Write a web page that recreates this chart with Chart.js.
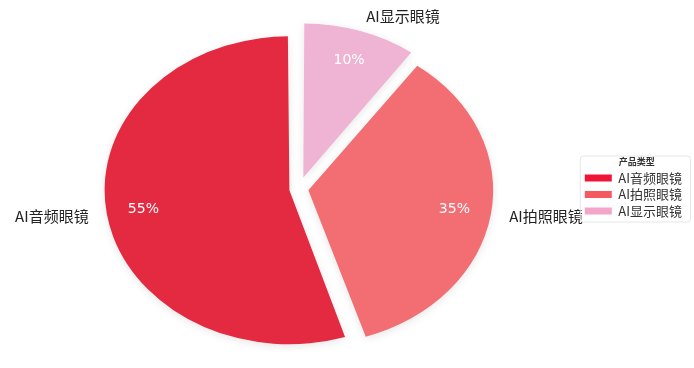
<!DOCTYPE html>
<html>
<head>
<meta charset="utf-8">
<script src="https://cdn.jsdelivr.net/npm/chart.js@4/dist/chart.umd.min.js"></script>
<style>
  html, body { margin: 0; padding: 0; background: #ffffff; }
  #wrap { width: 694px; height: 368px; }
</style>
</head>
<body>
<div id="wrap"><canvas id="c" width="694" height="368"></canvas></div>
<script>
// ---- data ----
const categories = ['AI音频眼镜', 'AI拍照眼镜', 'AI显示眼镜'];
const shares = [55, 35, 10];
const sliceColors = ['#e42a40', '#f26e73', '#efb4d3'];
const legendColors = ['#ee1537', '#f45a5e', '#f4a6c8'];
const legendTitle = '产品类型';
// clockwise drawing order (starting with AI音频眼镜)
const drawOrder = [0, 2, 1];

const total = shares.reduce((a, b) => a + b, 0);
const rotationDeg = 360 - 360 * shares[0] / total;
const SX = 1.2; // horizontal stretch of the pie (elliptical pie)

const labelFont = '15px "Noto Sans CJK SC", "Liberation Sans", sans-serif';
const pctFont = '14px "DejaVu Sans", sans-serif';

const ellipsePlugin = {
  id: 'ellipse',
  beforeDatasetsDraw(chart) {
    const meta = chart.getDatasetMeta(0);
    const ctrlR = meta.controller.outerRadius;
    meta.data.forEach(el => {
      const circ = el.circumference;
      const fix = 1 - Math.sin(Math.min(Math.PI, circ || 0));
      el.outerRadius = ctrlR - ((el.options.offset || 0) / 4) * fix;
    });
    const cx = meta.data[0].x;
    const ctx = chart.ctx;
    ctx.save();
    ctx.shadowColor = 'rgba(0,0,0,0.10)';
    ctx.shadowBlur = 8;
    ctx.shadowOffsetY = 2;
    ctx.translate(cx, 0);
    ctx.scale(SX, 1);
    ctx.translate(-cx, 0);
  },
  afterDatasetsDraw(chart) {
    const ctx = chart.ctx;
    ctx.restore();
    const meta = chart.getDatasetMeta(0);
    const R = meta.controller.outerRadius;
    meta.data.forEach((el, i) => {
      const cat = drawOrder[i];
      const mid = (el.startAngle + el.endAngle) / 2;
      const t = (el.options.offset || 0) / 4;
      const dx = Math.cos(mid), dy = Math.sin(mid);
      // percentage inside
      const dp = t + 0.8 * R;
      ctx.save();
      ctx.font = pctFont;
      ctx.fillStyle = '#ffffff';
      ctx.textAlign = 'center';
      ctx.textBaseline = 'middle';
      ctx.fillText(shares[cat] + '%', el.x + SX * dx * dp, el.y + dy * dp);
      // category label outside
      const dl = t + 1.1 * R;
      ctx.font = labelFont;
      ctx.fillStyle = '#222222';
      ctx.textAlign = dx >= 0 ? 'left' : 'right';
      ctx.fillText(categories[cat], el.x + SX * dx * dl, el.y + dy * dl);
      ctx.restore();
    });
  },
  afterDraw(chart) {
    const lg = chart.legend;
    if (!lg || !lg.legendHitBoxes || !lg.legendHitBoxes.length) return;
    const hb = lg.legendHitBoxes;
    const first = hb[0], last = hb[hb.length - 1];
    const x0 = first.left - 5;
    const x1 = lg.right - 2;
    const y0 = first.top - 16;
    const y1 = last.top + last.height + 4;
    const ctx = chart.ctx;
    ctx.save();
    ctx.strokeStyle = '#e6e6e6';
    ctx.lineWidth = 1;
    ctx.beginPath();
    ctx.roundRect(x0 + 0.5, y0 + 0.5, x1 - x0, y1 - y0, 3);
    ctx.stroke();
    ctx.restore();
  }
};

new Chart(document.getElementById('c'), {
  type: 'pie',
  data: {
    labels: drawOrder.map(i => categories[i]),
    datasets: [{
      data: drawOrder.map(i => shares[i]),
      backgroundColor: drawOrder.map(i => sliceColors[i]),
      borderWidth: 0,
      offset: [32, 48, 32],
      radius: 154
    }]
  },
  options: {
    responsive: false,
    animation: false,
    rotation: rotationDeg,
    layout: { padding: { left: 16.5, right: 2, top: 14, bottom: 4 } },
    plugins: {
      tooltip: { enabled: false },
      legend: {
        position: 'right',
        title: {
          display: true,
          text: legendTitle,
          color: '#333333',
          font: { size: 9, weight: 'bold', lineHeight: 1, family: '"Noto Sans CJK SC", sans-serif' },
          padding: { top: 0, bottom: 2 }
        },
        labels: {
          boxWidth: 27,
          boxHeight: 7,
          padding: 3.5,
          color: '#222222',
          font: { size: 13, family: '"Noto Sans CJK SC", "Liberation Sans", sans-serif' },
          sort: (a, b) => drawOrder[a.index] - drawOrder[b.index],
          generateLabels(chart) {
            return chart.data.labels.map((lab, i) => ({
              text: lab,
              fillStyle: legendColors[drawOrder[i]],
              strokeStyle: legendColors[drawOrder[i]],
              lineWidth: 0,
              hidden: false,
              index: i
            }));
          }
        }
      }
    }
  },
  plugins: [ellipsePlugin]
});
</script>
</body>
</html>
